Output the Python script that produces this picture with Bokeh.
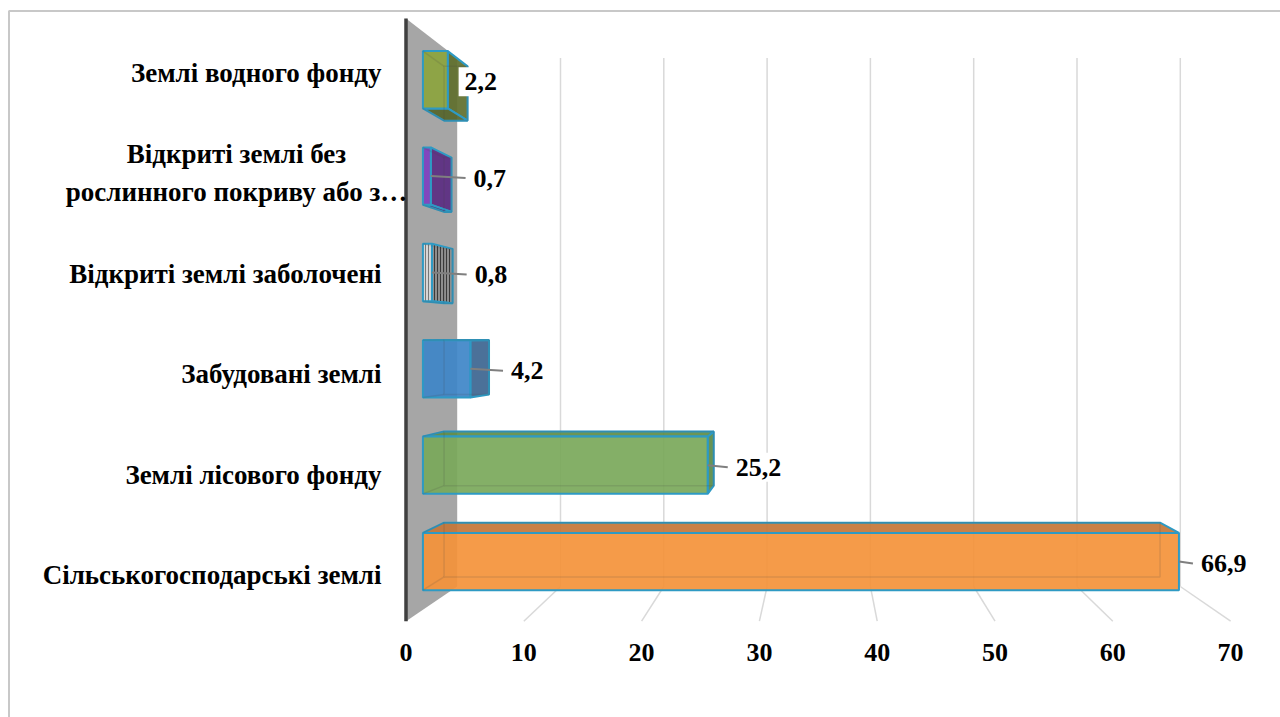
from bokeh.plotting import figure
from bokeh.models import Range1d, ColumnDataSource
from bokeh.embed import file_html
from bokeh.resources import INLINE
from bokeh.core.properties import value

# ---------------- data ----------------
categories = [
    "Сільськогосподарські землі",
    "Землі лісового фонду",
    "Забудовані землі",
    "Відкриті землі заболочені",
    "Відкриті землі без\nрослинного покриву або з…",
    "Землі водного фонду",
]
values = [66.9, 25.2, 4.2, 0.8, 0.7, 2.2]
value_labels = ["66,9", "25,2", "4,2", "0,8", "0,7", "2,2"]
ticks = [0, 10, 20, 30, 40, 50, 60, 70]
tick_labels = ["0", "10", "20", "30", "40", "50", "60", "70"]

# ---------------- styles ----------------
front_colors = ["#F4923A", "#79A85A", "#3E86C8", "#DADADA", "#7F3FBF", "#8CA43E"]
cap_colors = ["#C47637", "#5F8C46", "#3470A8", "#8A8A8A", "#4E2670", "#56652A"]
side_colors = ["#C47637", "#5A8A45", "#3C6590", "#8C8C8C", "#5B2C82", "#5F6F2D"]
hatches = [" ", " ", " ", "|", " ", " "]
hatch_front = "#777777"
hatch_side = "#3A3A3A"
OUTLINE = "#2E9AC4"
FONT = value("'Liberation Serif', 'Times New Roman', serif")

# ---------------- geometry (pixel layout constants) ----------------
W, H = 1280, 717
X0, SX = 456.7, 10.33      # back wall: value 0 pixel, px per unit
Y0, SY = 586.0, 88.08      # back wall: floor pixel, px per category band
VP_PX = (821.4, 338.8)     # vanishing point (px)
K_BAR_BACK, K_BAR_FRONT, K_FLOOR = 1.036, 1.094, 1.1404
HALF = 0.2975              # half bar thickness in band units
PAD = 6
N = len(categories)


def px_x(px):
    return (px - X0) / SX


def px_y(py):
    return (Y0 - py) / SY


VPX, VPY = px_x(VP_PX[0]), px_y(VP_PX[1])


def P(x, y, k):
    return VPX + k * (x - VPX), VPY + k * (y - VPY)


p = figure(width=W, height=H, output_backend="svg", toolbar_location=None,
           x_range=Range1d(px_x(0), px_x(W)), y_range=Range1d(px_y(H), px_y(0)),
           x_axis_type=None, y_axis_type=None, min_border=0)
p.outline_line_color = None
p.background_fill_color = "white"
p.border_fill_color = "white"

# outer chart border
p.line([px_x(8.5), px_x(8.5), px_x(W + 5)], [px_y(H + 5), px_y(10.5), px_y(10.5)],
       line_color="#C8C8C8", line_width=2)

# back wall gridlines and floor lines
gx, gy, fx, fy = [], [], [], []
for t in ticks[1:]:
    gx.append([t, t]); gy.append([0, N])
    a = P(t, 0, 1.0); b = P(t, 0, K_FLOOR)
    fx.append([a[0], b[0]]); fy.append([a[1], b[1]])
p.multi_line(gx, gy, line_color="#D9D9D9", line_width=1.5)
p.multi_line(fx, fy, line_color="#D9D9D9", line_width=1.5)

# side wall
wall = [P(0, 0, 1.0), P(0, N, 1.0), P(0, N, K_FLOOR), P(0, 0, K_FLOOR)]
p.patch([q[0] for q in wall], [q[1] for q in wall], fill_color="#A6A6A6", line_color=None)
e1, e2 = P(0, 0, K_FLOOR), P(0, N, K_FLOOR)
p.line([e1[0], e2[0]], [e1[1], e2[1]], line_color="#3F3F3F", line_width=3.5)

# bars
xs, ys, fills, hp, hc = [], [], [], [], []
hx, hy = [], []
lab_x, lab_y, lead_x, lead_y = [], [], [], []
for i, v in enumerate(values):
    c = i + 0.5
    y0, y1 = c - HALF, c + HALF
    faces = []
    if v < VPX:
        faces.append(([P(v, y0, K_BAR_FRONT), P(v, y0, K_BAR_BACK), P(v, y1, K_BAR_BACK), P(v, y1, K_BAR_FRONT)],
                      side_colors[i], hatch_side))
    if y1 < VPY:
        faces.append(([P(0, y1, K_BAR_FRONT), P(v, y1, K_BAR_FRONT), P(v, y1, K_BAR_BACK), P(0, y1, K_BAR_BACK)],
                      cap_colors[i], hatch_side))
    if y0 > VPY:
        faces.append(([P(0, y0, K_BAR_FRONT), P(v, y0, K_BAR_FRONT), P(v, y0, K_BAR_BACK), P(0, y0, K_BAR_BACK)],
                      cap_colors[i], hatch_side))
    faces.append(([P(0, y0, K_BAR_FRONT), P(v, y0, K_BAR_FRONT), P(v, y1, K_BAR_FRONT), P(0, y1, K_BAR_FRONT)],
                  front_colors[i], hatch_front))
    for pts, col, hcol in faces:
        xs.append([q[0] for q in pts]); ys.append([q[1] for q in pts])
        fills.append(col); hp.append(hatches[i]); hc.append(hcol)
    # hidden (see-through) edges
    back = [P(0, y0, K_BAR_BACK), P(v, y0, K_BAR_BACK), P(v, y1, K_BAR_BACK), P(0, y1, K_BAR_BACK), P(0, y0, K_BAR_BACK)]
    hx.append([q[0] for q in back]); hy.append([q[1] for q in back])
    for (xx, yy) in [(0, y0), (0, y1)]:
        a = P(xx, yy, K_BAR_BACK); b = P(xx, yy, K_BAR_FRONT)
        hx.append([a[0], b[0]]); hy.append([a[1], b[1]])
    # labels
    fr = P(v, c, K_BAR_FRONT)
    br = P(v, c, K_BAR_BACK)
    extent = max(fr[0], br[0])
    nudge = -25 if categories[i] == "Землі водного фонду" else 0
    tx = extent + (16 + nudge) / SX
    ty = fr[1] - 2 / SY
    lab_x.append(tx); lab_y.append(ty)
    if tx - 4 / SX > extent:
        lead_x.append([fr[0], tx - 2 / SX]); lead_y.append([fr[1], ty])

src = ColumnDataSource(dict(xs=xs, ys=ys, fill=fills, hp=hp, hc=hc))
p.patches("xs", "ys", source=src, fill_color="fill", fill_alpha=0.92, hatch_pattern="hp",
          hatch_color="hc", hatch_scale=3, hatch_weight=1.0, line_color=OUTLINE, line_width=2)
p.multi_line(hx, hy, line_color="#404040", line_alpha=0.15, line_width=1.5)

# leader lines and data labels
p.multi_line(lead_x, lead_y, line_color="#7F7F7F", line_width=2)
p.text(lab_x, lab_y, text=value_labels, text_font=FONT, text_font_style="bold",
       text_font_size="26px", text_align="left", text_baseline="middle", text_color="black",
       background_fill_color="white", padding=PAD)

# category labels
s_x, s_y, s_t, m_x, m_y, m_t = [], [], [], [], [], []
for i, name in enumerate(categories):
    yy = P(0, i + 0.5, K_FLOOR)[1] - 4 / SY
    if "\n" in name:
        m_x.append(px_x(236)); m_y.append(yy); m_t.append(name)
    else:
        s_x.append(px_x(381)); s_y.append(yy); s_t.append(name)
p.text(s_x, s_y, text=s_t, text_font=FONT, text_font_style="bold", text_font_size="27px",
       text_align="right", text_baseline="middle", text_color="black")
p.text(m_x, m_y, text=m_t, text_font=FONT, text_font_style="bold", text_font_size="27px",
       text_align="center", text_baseline="middle", text_color="black", text_line_height=1.28)

# x tick labels at the floor front edge
tx_ = [P(t, 0, K_FLOOR)[0] for t in ticks]
p.text(tx_, [px_y(652)] * len(ticks), text=tick_labels, text_font=FONT, text_font_style="bold",
       text_font_size="26px", text_align="center", text_baseline="middle", text_color="black")

open("out.html", "w").write(file_html(p, INLINE))
